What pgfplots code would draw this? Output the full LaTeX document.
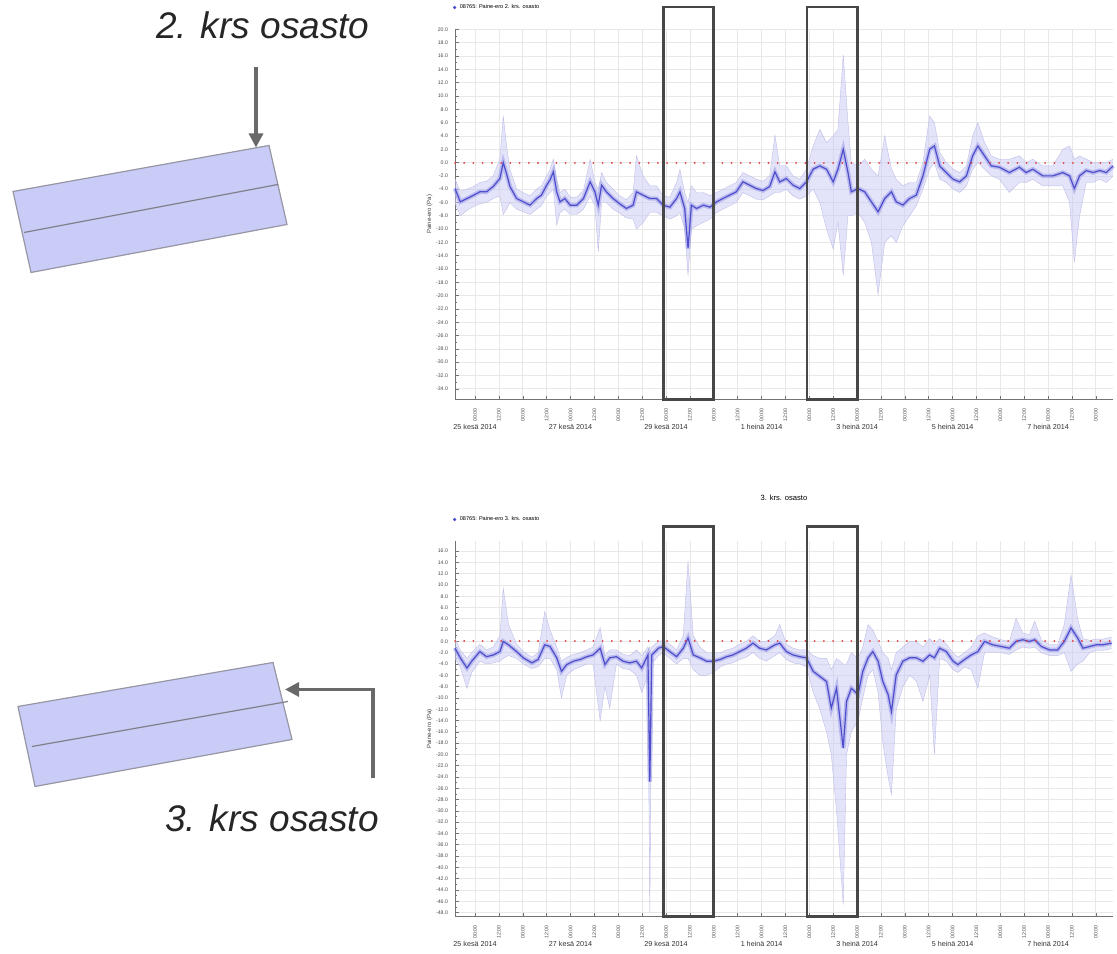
\documentclass[border=0pt]{standalone}
\usepackage{fontspec}
\setmainfont{Liberation Sans}
\usepackage{graphicx}
\usepackage{pgfplots}
\pgfplotsset{compat=1.18}
\usepackage{pgfplotstable}
\usepgfplotslibrary{fillbetween}
\usetikzlibrary{arrows.meta}

\definecolor{bandfill}{RGB}{200,200,244}
\definecolor{bandedge}{RGB}{190,190,232}
\definecolor{meanline}{RGB}{78,78,205}
\definecolor{meanhalo}{RGB}{160,160,232}
\definecolor{shapefill}{RGB}{201,204,246}
\definecolor{shapeedge}{RGB}{150,150,165}
\definecolor{arrowgray}{RGB}{105,105,105}
\definecolor{zeroline}{RGB}{228,60,60}

\pgfplotstableread{
day mean lo hi
-0.42 -3.9 -6.0 -2.5
-0.31 -5.9 -8.0 -4.3
-0.17 -5.4 -7.2 -4.0
-0.03 -4.9 -6.6 -3.6
0.10 -4.4 -6.2 -3.0
0.24 -4.4 -6.0 -2.8
0.38 -3.6 -5.4 -2.0
0.52 -2.4 -5.0 0.5
0.59 0.0 -7.8 7.0
0.66 -1.7 -7.0 2.5
0.73 -3.6 -6.0 -1.0
0.87 -5.4 -7.0 -4.0
1.01 -5.9 -7.4 -4.5
1.15 -6.4 -7.8 -5.0
1.29 -5.4 -7.0 -4.0
1.39 -4.9 -6.5 -3.5
1.50 -3.4 -5.0 -2.0
1.57 -2.6 -4.5 -1.0
1.64 -1.4 -4.0 0.5
1.71 -4.4 -9.4 -2.5
1.78 -5.9 -7.5 -4.5
1.88 -5.4 -7.0 -4.0
1.99 -6.4 -7.8 -5.2
2.13 -6.4 -7.8 -5.2
2.27 -5.4 -7.0 -4.2
2.41 -2.9 -5.0 0.5
2.51 -4.4 -6.5 -3.0
2.58 -6.4 -13.4 -4.0
2.65 -3.4 -6.0 -1.5
2.75 -4.4 -6.0 -3.0
2.89 -5.4 -7.0 -4.0
3.03 -6.2 -7.6 -5.0
3.17 -6.9 -8.3 -5.6
3.31 -6.4 -8.5 -4.5
3.38 -4.4 -10.0 1.0
3.52 -4.9 -9.0 -2.0
3.66 -5.4 -7.5 -3.5
3.80 -5.4 -7.5 -3.5
3.94 -6.4 -8.0 -5.0
4.08 -6.7 -8.5 -5.2
4.22 -5.4 -8.0 -3.0
4.29 -4.4 -7.5 -1.0
4.39 -6.9 -10.0 -4.5
4.46 -12.9 -17.0 -6.0
4.53 -6.4 -10.0 -3.5
4.64 -6.9 -9.5 -4.5
4.78 -6.4 -9.0 -4.5
4.92 -6.7 -8.5 -5.0
5.06 -5.9 -7.5 -4.5
5.19 -5.4 -7.0 -4.0
5.33 -4.9 -6.5 -3.5
5.47 -4.4 -6.0 -3.0
5.61 -2.9 -4.5 -1.5
5.75 -3.4 -5.0 -2.0
5.89 -3.9 -5.5 -2.5
6.03 -4.2 -5.6 -2.8
6.17 -3.6 -5.0 -2.0
6.28 -1.4 -4.5 4.1
6.38 -2.9 -4.5 -0.5
6.52 -2.4 -4.0 -0.5
6.66 -3.4 -5.0 -2.0
6.80 -3.9 -5.5 -2.5
6.94 -2.9 -5.0 -1.0
7.08 -1.0 -4.0 2.5
7.22 -0.5 -6.0 5.0
7.36 -1.0 -10.0 3.0
7.50 -2.9 -13.0 4.0
7.60 -1.0 -9.0 5.0
7.71 2.0 -16.9 16.2
7.81 -1.5 -8.0 6.0
7.88 -4.4 -8.0 0.0
8.02 -3.9 -7.5 -0.5
8.16 -4.4 -9.0 0.5
8.30 -5.9 -12.0 -1.0
8.44 -7.4 -19.8 -2.0
8.58 -5.4 -12.0 4.0
8.72 -4.4 -11.0 -1.0
8.82 -5.9 -12.0 -2.5
8.96 -6.4 -9.5 -3.5
9.10 -5.4 -8.0 -3.0
9.24 -4.9 -6.5 -3.0
9.38 -2.0 -4.0 0.0
9.52 2.0 -1.0 7.0
9.62 2.5 0.0 6.0
9.73 -0.5 -2.5 1.5
9.87 -1.5 -3.0 0.0
10.01 -2.5 -4.0 -1.0
10.15 -2.9 -4.5 -1.5
10.29 -2.0 -3.5 -0.5
10.42 1.0 -1.0 4.0
10.53 2.5 0.0 6.0
10.67 1.0 -1.0 3.0
10.81 -0.5 -2.0 1.0
10.98 -0.7 -2.5 0.5
11.19 -1.5 -4.5 0.5
11.40 -0.7 -3.0 1.0
11.54 -1.5 -3.0 0.0
11.68 -1.0 -2.5 0.5
11.89 -2.0 -3.5 -0.5
12.10 -2.0 -3.5 -0.5
12.31 -1.5 -3.5 2.0
12.45 -2.0 -6.0 2.5
12.55 -3.9 -15.0 0.5
12.66 -2.0 -8.0 1.0
12.80 -1.2 -3.0 0.5
12.94 -1.5 -3.0 0.0
13.08 -1.2 -2.5 0.0
13.22 -1.5 -3.0 0.0
13.36 -0.5 -2.0 0.5
}\topdata

\pgfplotstableread{
day mean lo hi
-0.42 -1.2 -3.0 0.5
-0.31 -2.9 -4.5 -1.5
-0.17 -4.7 -8.3 -3.0
-0.07 -3.5 -5.5 -2.0
0.10 -1.8 -3.5 -0.5
0.24 -2.7 -4.0 -1.5
0.38 -2.4 -3.8 -1.0
0.52 -1.8 -3.5 1.0
0.59 0.0 -3.0 9.4
0.70 -0.6 -2.5 3.0
0.87 -1.8 -3.0 -0.5
1.01 -2.9 -4.0 -1.8
1.19 -3.8 -4.8 -2.8
1.32 -3.2 -4.5 -2.0
1.46 -0.6 -3.0 5.3
1.57 -0.9 -3.0 2.0
1.71 -2.9 -5.0 -1.0
1.81 -5.3 -10.0 -3.5
1.92 -4.1 -6.0 -2.8
2.06 -3.5 -5.0 -2.3
2.20 -3.2 -4.5 -2.0
2.34 -2.7 -4.0 -1.5
2.47 -2.4 -4.0 -1.0
2.62 -1.2 -14.0 2.4
2.72 -4.1 -8.0 -2.5
2.82 -2.9 -11.8 -1.5
2.96 -2.7 -4.0 -1.5
3.10 -3.5 -4.8 -2.3
3.24 -3.8 -5.0 -2.5
3.38 -3.5 -6.0 -1.5
3.49 -4.7 -9.0 -2.5
3.62 -2.4 -6.0 -1.0
3.66 -24.8 -48.0 -2.0
3.70 -2.4 -4.0 -1.0
3.84 -1.2 -2.5 0.0
3.94 -0.9 -2.0 0.2
4.08 -1.8 -3.0 -0.5
4.22 -2.7 -4.0 -1.5
4.36 -1.2 -3.0 1.0
4.46 0.6 -3.0 14.2
4.57 -2.4 -5.0 1.0
4.71 -2.9 -6.0 -1.0
4.85 -3.5 -6.0 -2.0
4.99 -3.5 -5.5 -2.0
5.13 -3.2 -4.5 -2.0
5.27 -2.7 -4.0 -1.5
5.40 -2.4 -3.8 -1.2
5.54 -1.8 -3.2 -0.5
5.68 -1.2 -2.8 0.0
5.82 -0.3 -2.0 1.0
5.96 -1.2 -3.0 0.0
6.10 -1.5 -3.5 0.0
6.28 -0.6 -2.5 1.0
6.38 -0.3 -2.0 3.0
6.52 -1.8 -3.2 -0.5
6.66 -2.4 -3.8 -1.2
6.80 -2.7 -4.0 -1.5
6.94 -2.9 -4.5 -1.5
7.08 -5.3 -9.0 -2.5
7.22 -6.2 -12.0 -3.0
7.36 -7.1 -16.0 -3.0
7.46 -11.8 -20.0 -5.0
7.57 -8.3 -30.0 -3.0
7.71 -18.9 -46.6 -4.0
7.78 -10.6 -20.0 -4.0
7.88 -8.3 -16.0 -2.0
8.02 -9.4 -14.0 -3.0
8.12 -5.3 -10.0 -1.0
8.23 -2.9 -6.0 3.0
8.33 -1.8 -5.0 2.0
8.44 -3.5 -9.0 0.0
8.54 -7.1 -18.0 -2.0
8.65 -9.4 -24.0 -3.0
8.72 -12.4 -27.1 -5.0
8.82 -5.9 -12.0 -2.0
8.96 -3.5 -8.0 -1.0
9.10 -2.9 -6.0 0.0
9.24 -2.9 -7.0 0.0
9.38 -3.5 -10.6 -1.0
9.52 -2.4 -6.0 0.5
9.62 -2.9 -20.0 -0.5
9.73 -1.2 -3.0 0.5
9.87 -1.8 -3.5 -0.5
10.01 -3.5 -5.0 -2.0
10.11 -4.1 -5.5 -2.8
10.25 -3.2 -4.5 -2.0
10.39 -2.4 -5.0 -1.0
10.53 -1.8 -8.3 1.0
10.67 0.0 -2.0 1.5
10.84 -0.6 -2.0 0.8
11.02 -0.9 -2.0 0.3
11.19 -1.2 -2.3 0.0
11.33 0.0 -1.5 4.1
11.47 0.3 -1.0 1.5
11.61 0.0 -1.2 1.2
11.72 0.3 -1.0 3.6
11.86 -0.9 -2.0 0.2
12.03 -1.5 -2.5 -0.5
12.20 -1.5 -2.5 -0.5
12.34 0.0 -2.0 3.0
12.48 2.4 -5.3 11.8
12.62 0.6 -4.0 4.0
12.73 -1.2 -3.5 0.5
12.87 -0.9 -2.0 0.2
13.01 -0.6 -1.6 0.4
13.15 -0.6 -1.6 0.4
13.33 -0.3 -1.3 0.8
}\botdata

\newcommand{\R}[1]{\rotatebox{90}{#1}}

\pgfplotsset{
  mychart/.style={
    scale only axis,
    width=329pt,
    xmin=-0.42, xmax=13.36,
    clip=false,
    axis lines*=left,
    axis line style={black!55, line width=0.5pt},
    tick style={black!55, line width=0.3pt},
    major tick length=1.8pt,
    minor tick length=1pt,
    xtick={0,0.5,1,1.5,2,2.5,3,3.5,4,4.5,5,5.5,6,6.5,7,7.5,8,8.5,9,9.5,10,10.5,11,11.5,12,12.5,13},
    xticklabels={\R{00:00},\R{12:00},\R{00:00},\R{12:00},\R{00:00},\R{12:00},\R{00:00},\R{12:00},\R{00:00},\R{12:00},\R{00:00},\R{12:00},\R{00:00},\R{12:00},\R{00:00},\R{12:00},\R{00:00},\R{12:00},\R{00:00},\R{12:00},\R{00:00},\R{12:00},\R{00:00},\R{12:00},\R{00:00},\R{12:00},\R{00:00}},
    x tick label style={font=\fontsize{2.6}{3}\selectfont, text=black!70, anchor=north, yshift=-1pt},
    extra x ticks={0,2,4,6,8,10,12},
    extra x tick labels={25 kesä 2014,27 kesä 2014,29 kesä 2014,1 heinä 2014,3 heinä 2014,5 heinä 2014,7 heinä 2014},
    extra x tick style={grid=none, major tick length=0pt,
      x tick label style={font=\fontsize{3.6}{4}\selectfont, text=black!80, anchor=north, yshift=-8pt}},
    minor y tick num=1,
    grid=major,
    major grid style={black!9, line width=0.35pt},
    /pgf/number format/assume math mode=true,
    y tick label style={font=\fontsize{2.6}{3}\selectfont, text=black!70,
      /pgf/number format/fixed, /pgf/number format/fixed zerofill, /pgf/number format/precision=1},
    ylabel={Paine-ero (Pa)},
    ylabel style={font=\fontsize{3}{3.5}\selectfont, text=black!75, yshift=-5pt},
    legend style={at={(rel axis cs:0,1)}, anchor=south west, yshift=7pt, xshift=-1pt,
      draw=none, fill=none, font=\fontsize{2.8}{3.2}\selectfont, inner sep=0pt},
    legend cell align=left,
  },
}

\begin{document}
\begin{tikzpicture}
\begin{scope}[x=0.5pt,y=-0.5pt]
  \path[use as bounding box] (0,0) rectangle (1117,945);
  % upper floor plan
  \draw[shapeedge, fill=shapefill, line width=0.6pt] (13,190) -- (269,144) -- (287,223) -- (31,271) -- cycle;
  \draw[shapeedge!85!black, line width=0.6pt] (24,231) -- (278,183);
  \node[font=\fontsize{18.5}{20}\selectfont\itshape, text=black!85] at (263,24) {2. krs osasto};
  \draw[arrowgray, line width=1.6pt, -{Triangle[length=7pt,width=7pt]}] (256,66) -- (256,146);
  % lower floor plan
  \draw[shapeedge, fill=shapefill, line width=0.6pt] (18,705) -- (273,661) -- (292,738) -- (35,785) -- cycle;
  \draw[shapeedge!85!black, line width=0.6pt] (32,745) -- (288,700);
  \node[font=\fontsize{18.5}{20}\selectfont\itshape, text=black!85] at (272,817) {3. krs osasto};
  \draw[arrowgray, line width=1.6pt, -{Triangle[length=7pt,width=7pt]}] (373,777) -- (373,688) -- (285,688);
\end{scope}

% ---------- upper chart ----------
\begin{axis}[mychart,
  at={(227.5pt,-199pt)}, anchor=south west,
  height=185pt,
  ymin=-35.6, ymax=20,
  ytick={-34,-32,...,20},
]
\addlegendimage{only marks, mark=*, mark size=0.6pt, meanline}
\addlegendentry{08765: Paine-ero 2. krs. osasto}
\addplot[name path=hiA, bandedge, line width=0.2pt, forget plot] table[x=day, y=hi] {\topdata};
\addplot[name path=loA, bandedge, line width=0.2pt, forget plot] table[x=day, y=lo] {\topdata};
\addplot[bandfill, opacity=0.5, forget plot] fill between[of=hiA and loA];
\addplot[meanhalo, opacity=0.6, line width=2.2pt, forget plot] table[x=day, y=mean] {\topdata};
\addplot[meanline, line width=0.6pt, forget plot] table[x=day, y=mean] {\topdata};
\addplot[zeroline, line width=1pt, dash pattern=on 0.01pt off 4.6pt, line cap=round, forget plot] coordinates {(-0.42,0) (13.36,0)};
\draw[black!72, line width=1.3pt] (axis cs:3.94,-35.6) rectangle (axis cs:4.99,23.4);
\draw[black!72, line width=1.3pt] (axis cs:6.95,-35.6) rectangle (axis cs:8.01,23.4);
\end{axis}

% ---------- lower chart ----------
\begin{axis}[mychart,
  at={(227.5pt,-457.5pt)}, anchor=south west,
  height=187.5pt,
  ymin=-48.7, ymax=17.7,
  ytick={-48,-46,...,16},
  title={3. krs. osasto},
  title style={at={(0.5,1)}, anchor=center, yshift=16pt, font=\fontsize{3.8}{4.2}\selectfont},
]
\addlegendimage{only marks, mark=*, mark size=0.6pt, meanline}
\addlegendentry{08765: Paine-ero 3. krs. osasto}
\addplot[name path=hiB, bandedge, line width=0.2pt, forget plot] table[x=day, y=hi] {\botdata};
\addplot[name path=loB, bandedge, line width=0.2pt, forget plot] table[x=day, y=lo] {\botdata};
\addplot[bandfill, opacity=0.5, forget plot] fill between[of=hiB and loB];
\addplot[meanhalo, opacity=0.6, line width=2.2pt, forget plot] table[x=day, y=mean] {\botdata};
\addplot[meanline, line width=0.6pt, forget plot] table[x=day, y=mean] {\botdata};
\addplot[zeroline, line width=1pt, dash pattern=on 0.01pt off 4.6pt, line cap=round, forget plot] coordinates {(-0.42,0) (13.36,0)};
\draw[black!72, line width=1.3pt] (axis cs:3.94,-48.7) rectangle (axis cs:4.99,20.35);
\draw[black!72, line width=1.3pt] (axis cs:6.95,-48.7) rectangle (axis cs:8.01,20.35);
\end{axis}
\end{tikzpicture}
\end{document}
